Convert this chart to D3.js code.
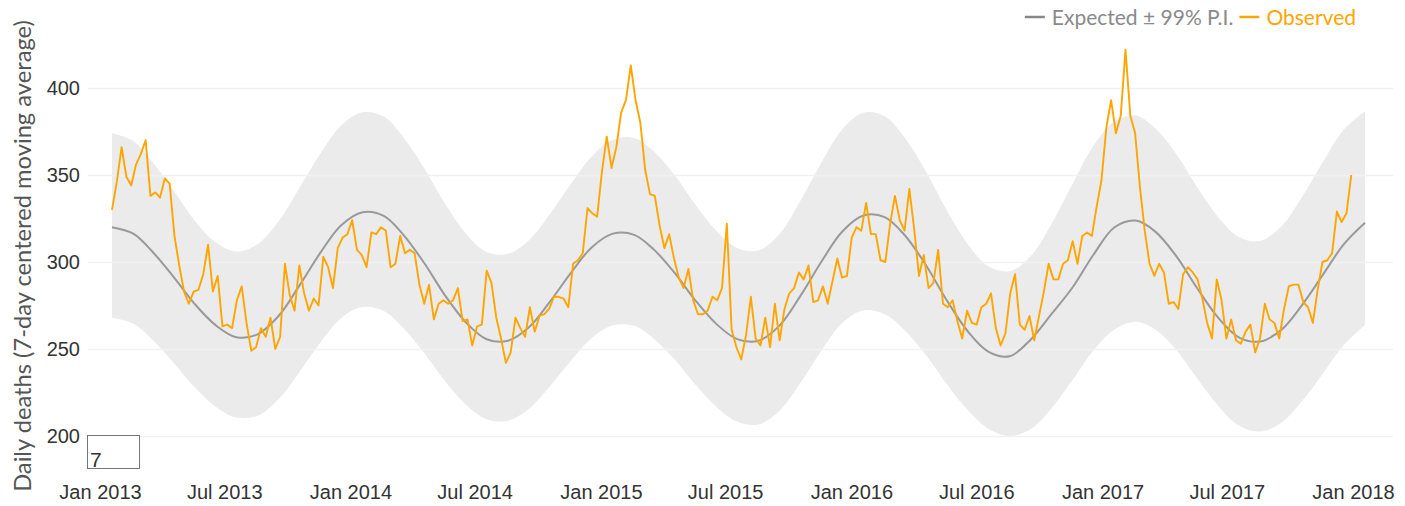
<!DOCTYPE html>
<html>
<head>
<meta charset="utf-8">
<script src="https://cdn.jsdelivr.net/npm/d3@7"></script>
<style>
  body { margin: 0; background: #fff; }
  svg { display: block; font-family: Lato, "Open Sans", sans-serif; }
</style>
</head>
<body>
<svg id="chart" width="1405" height="506"></svg>
<script>
// observed: weekly readings of the 7-day centered moving average, from 1 Jan 2013
const observedStart = new Date(2013, 0, 1);
const observed = [
  330, 346, 366, 349, 344, 356, 362, 370, 338, 340,
  337, 348, 345, 315, 298, 283, 276, 283, 284, 293,
  310, 283, 292, 263, 264, 262, 278, 286, 265, 249,
  251, 262, 257, 268, 250, 257, 299, 281, 272, 298,
  282, 272, 279, 275, 303, 297, 285, 308, 314, 316,
  324, 307,
  304, 297, 317, 316, 320, 318, 297, 299, 315, 305,
  307, 305, 287, 276, 287, 267, 276, 278, 276, 278,
  285, 266, 267, 252, 263, 264, 295, 288, 268, 256,
  242, 248, 268, 262, 257, 274, 260, 269, 270, 273,
  280, 280, 279, 274, 299, 301, 305, 331, 328, 326,
  352, 372,
  354, 366, 386, 393, 413, 393, 380, 353, 339, 338,
  321, 308, 316, 302, 291, 285, 296, 278, 270, 270,
  272, 280, 278, 285, 322, 261, 251, 244, 258, 280,
  256, 252, 268, 251, 276, 255, 273, 282, 285, 294,
  290, 298, 277, 278, 286, 276, 289, 302, 291, 292,
  314, 320,
  318, 334, 316, 316, 301, 300, 322, 338, 324, 318,
  342, 319, 292, 304, 285, 288, 307, 276, 274, 278,
  266, 256, 272, 265, 264, 274, 276, 282, 262, 252,
  259, 282, 293, 264, 261, 269, 255, 269, 283, 299,
  290, 290, 299, 301, 312, 299, 315, 317, 315, 332,
  347, 377,
  393, 374, 384, 422, 384, 374, 343, 318, 299, 292,
  299, 294, 276, 277, 273, 293, 297, 294, 290, 279,
  265, 256, 290, 278, 256, 267, 255, 253, 260, 264,
  248, 256, 276, 267, 265, 256, 273, 286, 287, 287,
  277, 274, 265, 284, 300, 301, 305, 329, 323, 328,
  350
];

// expected and 99% prediction interval: monthly readings, Jan 2013 .. Jan 2018
const modelStart = new Date(2013, 0, 1);
const expected = [
  320, 316.3, 305.9, 291.3, 276.1, 263.7, 256.8, 258.4, 269.1, 286.4,
  305.5, 321.1, 328.6, 326.5, 315.9, 299.4, 281.0, 265.2, 255.6, 254.7,
  262.6, 277.1, 293.9, 308.4, 316.3, 315.6, 307.4, 293.7, 278.0, 264.3,
  255.7, 254.7, 263.6, 280.4, 300.3, 317.4, 326.7, 325.8, 315.5, 298.3,
  278.3, 260.2, 248.5, 245.8, 255.5, 270.0, 285.5, 304.0, 320.0, 323.8,
  317.6, 303.4, 285.2, 268.0, 256.7, 254.3, 261.0, 275.1, 292.9, 310.1,
  322.5
];
const upperPI = [
  374, 369.6, 357.5, 340.9, 324.0, 311.3, 306.0, 310.2, 323.4, 342.5,
  362.5, 378.4, 386.0, 383.6, 372.0, 353.9, 333.7, 316.3, 305.8, 304.7,
  312.7, 327.5, 345.1, 360.7, 370.3, 371.3, 363.8, 349.9, 333.1, 317.8,
  308.1, 306.6, 316.2, 335.1, 357.3, 376.2, 385.8, 383.8, 371.6, 352.2,
  330.1, 310.4, 297.5, 294.7, 303.5, 321.9, 345.0, 366.6, 380.9, 384.2,
  377.0, 362.1, 343.3, 325.9, 314.4, 312.1, 320.4, 337.2, 357.7, 376.0,
  386.6
];
const lowerPI = [
  268, 264.6, 255.2, 242.0, 228.1, 216.8, 210.6, 211.6, 221.2, 236.7,
  253.9, 267.7, 274.1, 271.8, 262.2, 247.7, 231.7, 217.9, 209.6, 208.8,
  215.8, 228.5, 243.4, 256.3, 263.6, 263.3, 256.1, 243.9, 229.6, 216.7,
  208.3, 206.6, 214.5, 230.4, 249.2, 264.8, 272.2, 270.0, 260.8, 246.5,
  230.1, 214.9, 204.2, 200.0, 204.0, 215.8, 232.3, 249.0, 261.2, 265.7,
  261.3, 249.4, 233.3, 217.3, 206.1, 202.6, 207.6, 219.9, 236.1, 252.1,
  263.8
];

const yTicks = [200, 250, 300, 350, 400];
const xTickDates = ["2013-01", "2013-07", "2014-01", "2014-07", "2015-01", "2015-07",
                    "2016-01", "2016-07", "2017-01", "2017-07", "2018-01"];

const svg = d3.select("#chart");
const gridLeft = 88, gridRight = 1393;

const x = d3.scaleTime()
  .domain([new Date(2013, 0, 1), new Date(2018, 0, 1)])
  .range([112, 1365]);
const y = d3.scaleLinear().domain([200, 400]).range([436, 88]);

const obsData = observed.map((v, i) => ({date: d3.timeDay.offset(observedStart, 7 * i), value: v}));
const modelData = expected.map((v, i) => ({
  date: d3.timeMonth.offset(modelStart, i),
  exp: v, hi: upperPI[i], lo: lowerPI[i]
}));

//PI band
svg.append("path")
  .datum(modelData)
  .attr("fill", "#ebebeb")
  .attr("d", d3.area()
    .curve(d3.curveCatmullRom)
    .x(d => x(d.date))
    .y0(d => y(d.lo))
    .y1(d => y(d.hi)));

//y axis + gridlines
const yAxis = svg.append("g")
  .attr("transform", `translate(${gridLeft},0)`)
  .call(d3.axisLeft(y).tickValues(yTicks).tickSize(-(gridRight - gridLeft)).tickPadding(8));
yAxis.select(".domain").remove();
yAxis.selectAll("line").attr("stroke", "#f1f1f1").attr("stroke-width", 1.5);
yAxis.selectAll("text")
  .attr("fill", "#333")
  .style("font-size", "20px");

//x axis labels, no line
const xAxis = svg.append("g")
  .attr("transform", "translate(0,480)")
  .call(d3.axisBottom(x)
    .tickValues(xTickDates.map(d3.timeParse("%Y-%m")))
    .tickFormat(d3.timeFormat("%b %Y"))
    .tickSize(0).tickPadding(5));
xAxis.select(".domain").remove();
xAxis.selectAll("text")
  .attr("dx", -12)
  .attr("fill", "#333")
  .style("font-size", "20px");

//expected line
svg.append("path")
  .datum(modelData)
  .attr("fill", "none")
  .attr("stroke", "#999")
  .attr("stroke-width", 2)
  .attr("d", d3.line().curve(d3.curveCatmullRom).x(d => x(d.date)).y(d => y(d.exp)));

//observed line
svg.append("path")
  .datum(obsData)
  .attr("fill", "none")
  .attr("stroke", "#ffa500")
  .attr("stroke-width", 1.9)
  .attr("stroke-linejoin", "round")
  .attr("d", d3.line().x(d => x(d.date)).y(d => y(d.value)));

//y title
const yTitle = svg.append("text")
  .attr("transform", "translate(31,256) rotate(-90)")
  .attr("text-anchor", "middle")
  .attr("fill", "#555")
  .style("font-size", "20px")
  .text("Daily deaths (7-day centered moving average)");
const titleLen = yTitle.node().getComputedTextLength();
yTitle.style("font-size", (20 * 472 / titleLen) + "px");

//moving average window box
svg.append("rect")
  .attr("x", 87.5).attr("y", 435.5)
  .attr("width", 52).attr("height", 33)
  .attr("fill", "#fff")
  .attr("stroke", "#777");
svg.append("text")
  .attr("x", 90).attr("y", 467)
  .attr("fill", "#333")
  .style("font-family", "'Liberation Sans', sans-serif")
  .style("font-size", "21px")
  .text("7");

//legend (right aligned)
const legend = svg.append("g").style("font-size", "21px");
const obsText = legend.append("text")
  .attr("x", 1356).attr("y", 25)
  .attr("text-anchor", "end")
  .attr("fill", "#ffa500")
  .text("Observed");
let cursor = 1356 - obsText.node().getComputedTextLength() - 7;
legend.append("line")
  .attr("x1", cursor - 20).attr("x2", cursor)
  .attr("y1", 17).attr("y2", 17)
  .attr("stroke", "#ffa500").attr("stroke-width", 2.5);
cursor -= 26;
const expText = legend.append("text")
  .attr("x", cursor).attr("y", 25)
  .attr("text-anchor", "end")
  .attr("fill", "#8a8a8a")
  .text("Expected ± 99% P.I.");
cursor -= expText.node().getComputedTextLength() + 7;
legend.append("line")
  .attr("x1", cursor - 20).attr("x2", cursor)
  .attr("y1", 17).attr("y2", 17)
  .attr("stroke", "#888").attr("stroke-width", 2.5);
</script>
</body>
</html>
